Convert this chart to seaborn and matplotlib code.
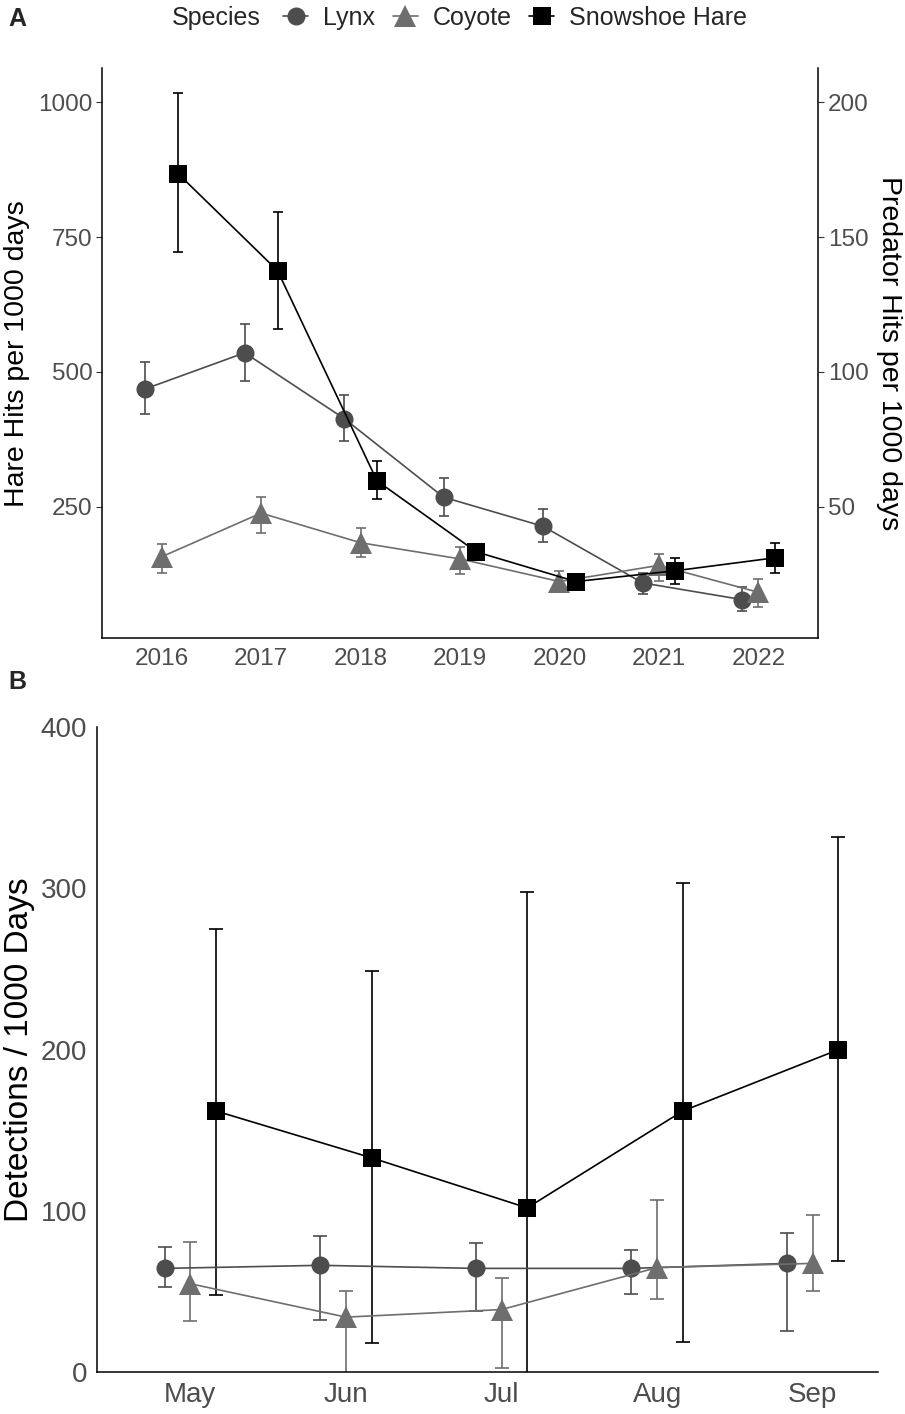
import numpy as np
import pandas as pd
import matplotlib
matplotlib.use('Agg')
import matplotlib.pyplot as plt
import seaborn as sns
from matplotlib.lines import Line2D

# ---- data ----
years = [2016, 2017, 2018, 2019, 2020, 2021, 2022]

# panel A: hare (left axis) and predators (right axis)
hare_year = [868, 688, 298, 166, 111, 131, 155]
hare_year_lo = [722, 580, 265, 155, 100, 107, 127]
hare_year_hi = [1017, 796, 334, 178, 123, 155, 183]

lynx_year = [93.7, 107.1, 82.7, 53.5, 42.7, 21.7, 15.5]
lynx_year_lo = [84.2, 96.8, 74.5, 46.7, 36.8, 17.7, 11.3]
lynx_year_hi = [103.7, 117.8, 91.6, 60.8, 49.3, 25.2, 20.0]

coyote_year = [31.4, 47.6, 36.6, 30.6, 22.2, 28.2, 18.2]
coyote_year_lo = [25.5, 40.2, 31.4, 25.1, 18.2, 22.5, 12.9]
coyote_year_hi = [36.2, 53.7, 42.2, 35.2, 26.2, 32.3, 23.2]

# panel B: monthly detections
months = ['May', 'Jun', 'Jul', 'Aug', 'Sep']
hare_month = [162, 133, 102, 162, 200]
hare_month_lo = [48, 18, -94, 19, 69]
hare_month_hi = [275, 249, 298, 303, 332]

lynx_month = [64.5, 66.4, 64.5, 64.5, 67.6]
lynx_month_lo = [52.7, 32.8, 37.8, 48.4, 26.0]
lynx_month_hi = [77.5, 84.3, 80.0, 75.7, 86.2]

coyote_month = [55.0, 34.3, 39.0, 65.0, 67.6]
coyote_month_lo = [31.8, -5.0, 3.0, 45.8, 50.3]
coyote_month_hi = [80.6, 50.3, 58.8, 107.0, 97.4]

species = ['Lynx', 'Coyote', 'Snowshoe Hare']
colors = {'Lynx': '#4d4d4d', 'Coyote': '#6e6e6e', 'Snowshoe Hare': '#000000'}
markers = {'Lynx': 'o', 'Coyote': '^', 'Snowshoe Hare': 's'}
msizes = {'Lynx': 13, 'Coyote': 16, 'Snowshoe Hare': 13}
dodge = {'Lynx': -0.165, 'Coyote': 0.0, 'Snowshoe Hare': 0.165}


def make_frame(pos, series):
    rows = []
    for name, (vals, lo, hi) in series.items():
        for p, v, l, h in zip(pos, vals, lo, hi):
            rows.append({'x': p + dodge[name], 'Species': name, 'value': v, 'lo': l, 'hi': h})
    return pd.DataFrame(rows)


df_year = make_frame(years, {
    'Lynx': (lynx_year, lynx_year_lo, lynx_year_hi),
    'Coyote': (coyote_year, coyote_year_lo, coyote_year_hi),
    'Snowshoe Hare': (hare_year, hare_year_lo, hare_year_hi),
})
df_month = make_frame(range(len(months)), {
    'Lynx': (lynx_month, lynx_month_lo, lynx_month_hi),
    'Coyote': (coyote_month, coyote_month_lo, coyote_month_hi),
    'Snowshoe Hare': (hare_month, hare_month_lo, hare_month_hi),
})


def draw_species(ax, df, name, scale=1.0, capsize=3.4, lw=1.2):
    d = df[df['Species'] == name]
    ax.errorbar(d['x'], d['value'], yerr=[d['value'] - d['lo'], d['hi'] - d['value']],
                fmt='none', ecolor=colors[name], elinewidth=lw, capsize=capsize,
                capthick=lw, zorder=2)
    sns.lineplot(data=d, x='x', y='value', color=colors[name], marker=markers[name],
                 markersize=msizes[name] * scale, markeredgewidth=0, linewidth=lw,
                 estimator=None, sort=False, legend=False, ax=ax, zorder=3)


def style_axis(ax, tick_size):
    ax.tick_params(direction='out', length=4, width=0.8, color='#333333',
                   labelcolor='#4d4d4d', labelsize=tick_size, pad=3)
    for s in ax.spines.values():
        s.set_color('black')
        s.set_linewidth(1.1)


sns.set_theme(style='white')
plt.rcParams['font.family'] = ['Liberation Sans', 'DejaVu Sans']

fig = plt.figure(figsize=(9.05, 14.14), dpi=100)

# ---- panel A ----
ax_a = fig.add_axes([0.1127, 0.5486, 0.7912, 0.4033])
ax_a2 = ax_a.twinx()
ax_a.set_zorder(ax_a2.get_zorder() + 1)
ax_a.patch.set_visible(False)

for name in ['Lynx', 'Coyote']:
    draw_species(ax_a2, df_year, name)
draw_species(ax_a, df_year, 'Snowshoe Hare')

ax_a.set_xlim(2015.4, 2022.6)
ax_a.set_xticks(years)
ax_a.set_ylim(5.7, 1064)
ax_a.set_yticks([250, 500, 750, 1000])
ax_a2.set_ylim(5.7 / 5, 1064 / 5)
ax_a2.set_yticks([50, 100, 150, 200])
ax_a.set_xlabel('')
ax_a.set_ylabel('Hare Hits per 1000 days', fontsize=20.5, color='black', labelpad=6)
ax_a2.set_ylabel('Predator Hits per 1000 days', fontsize=20.5, color='black',
                 rotation=270, labelpad=24)
ax_a2.set_xlabel('')
for ax in (ax_a, ax_a2):
    style_axis(ax, 17.5)
    ax.spines['top'].set_visible(False)
ax_a.spines['right'].set_visible(False)
ax_a2.spines['left'].set_visible(False)
ax_a2.spines['bottom'].set_visible(False)

# ---- panel B ----
ax_b = fig.add_axes([0.1072, 0.02935, 0.863, 0.4566])
for name in species:
    draw_species(ax_b, df_month, name, scale=1.0, capsize=5, lw=1.2)
ax_b.set_xlim(-0.6, 4.42)
ax_b.set_xticks(range(len(months)))
ax_b.set_xticklabels(months)
ax_b.set_ylim(0, 400)
ax_b.set_yticks([0, 100, 200, 300, 400])
ax_b.set_xlabel('')
ax_b.set_ylabel('Detections / 1000 Days', fontsize=24, color='black', labelpad=4)
style_axis(ax_b, 20)
ax_b.spines['top'].set_visible(False)
ax_b.spines['right'].set_visible(False)

# ---- legend and panel tags ----
handles = [Line2D([0], [0], color=colors[n], marker=markers[n], markersize=msizes[n],
                  markeredgewidth=0, linewidth=1.2) for n in species]
fig.text(172 / 905, 1 - 18 / 1414, 'Species', fontsize=18, va='center', ha='left')
fig.legend(handles, species, loc='center left', bbox_to_anchor=(283 / 905, 1 - 18 / 1414),
           ncol=3, frameon=False, fontsize=18, handlelength=1.0, handletextpad=0.6,
           columnspacing=0.7, borderaxespad=0, borderpad=0)
fig.text(8 / 905, 1 - 19 / 1414, 'A', fontsize=18, fontweight='bold', va='center')
fig.text(8 / 905, 1 - 682 / 1414, 'B', fontsize=18, fontweight='bold', va='center')

fig.savefig('out.png', dpi=100)
